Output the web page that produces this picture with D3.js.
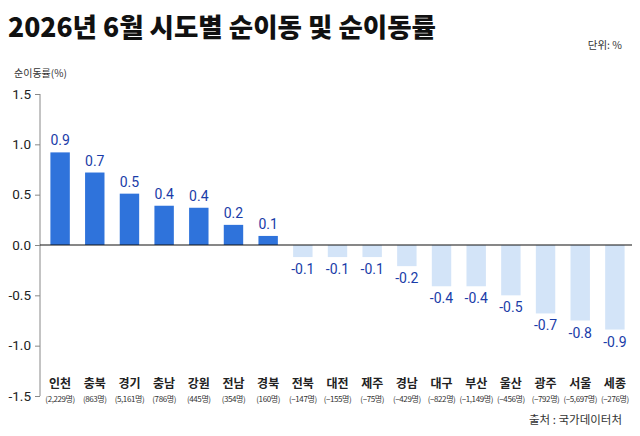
<!DOCTYPE html>
<html>
<head>
<meta charset="utf-8">
<script src="https://cdn.jsdelivr.net/npm/d3@7"></script>
<style>
  body { margin: 0; background: #fff; }
  svg { display: block; font-family: "Noto Sans CJK KR", "Noto Sans", sans-serif; }
</style>
</head>
<body>
<svg id="chart"></svg>
<script>
const width = 640
const height = 436

// 시도별 순이동률(%) - 막대 높이, 라벨, 순이동(명)
const regions = ["인천", "충북", "경기", "충남", "강원", "전남", "경북", "전북", "대전",
                 "제주", "경남", "대구", "부산", "울산", "광주", "서울", "세종"]
const rates = [0.92, 0.72, 0.51, 0.39, 0.37, 0.2, 0.09, -0.12, -0.12,
               -0.12, -0.21, -0.41, -0.41, -0.5, -0.68, -0.75, -0.84]
const rateLabels = ["0.9", "0.7", "0.5", "0.4", "0.4", "0.2", "0.1", "-0.1", "-0.1",
                    "-0.1", "-0.2", "-0.4", "-0.4", "-0.5", "-0.7", "-0.8", "-0.9"]
const moves = [2229, 863, 5161, 786, 445, 354, 160, -147, -155,
               -75, -429, -822, -1149, -456, -792, -5697, -276]
const yTicks = [1.5, 1.0, 0.5, 0.0, -0.5, -1.0, -1.5]

const svg = d3.select("#chart")
              .attr("width", width)
              .attr("height", height)

const x = d3.scaleBand()
            .domain(regions)
            .range([40, 635])
            .paddingInner(0.44)
            .paddingOuter(0.3)

const y = d3.scaleLinear()
            .domain([-1.5, 1.5])
            .range([396, 94])

// title
svg.append("text")
   .attr("x", 8).attr("y", 37)
   .attr("font-size", 26.5).attr("font-weight", 900)
   .attr("fill", "#111")
   .text("2026년 6월 시도별 순이동 및 순이동률")

svg.append("text")
   .attr("x", 622).attr("y", 49)
   .attr("text-anchor", "end")
   .attr("font-size", 10.5).attr("fill", "#333")
   .text("단위: %")

svg.append("text")
   .attr("x", 14).attr("y", 77)
   .attr("font-size", 10).attr("fill", "#333")
   .text("순이동률(%)")

// y axis
const yAxis = svg.append("g")
   .attr("transform", "translate(40,0)")
   .call(d3.axisLeft(y).tickValues(yTicks).tickFormat(d3.format(".1f")).tickSize(5).tickPadding(4))
yAxis.select(".domain").attr("stroke", "#888").attr("d", `M0,${y(1.5)}V${y(-1.5)}`)
yAxis.selectAll(".tick line").attr("stroke", "#888")
yAxis.selectAll(".tick text")
     .attr("font-size", 13.5).attr("fill", "#222")
     .attr("font-family", "Roboto, sans-serif")
     .text(d => d < 0 ? "-" + d3.format(".1f")(-d) : d3.format(".1f")(d))

// bars
svg.append("g")
   .selectAll("rect")
   .data(regions)
   .join("rect")
     .attr("x", d => x(d))
     .attr("width", x.bandwidth())
     .attr("y", (d, i) => y(Math.max(0, rates[i])))
     .attr("height", (d, i) => Math.abs(y(rates[i]) - y(0)))
     .attr("fill", (d, i) => rates[i] >= 0 ? "#2f73db" : "#d3e4f8")

// zero line
svg.append("line")
   .attr("x1", 40).attr("x2", 632)
   .attr("y1", y(0)).attr("y2", y(0))
   .attr("stroke", "#111").attr("stroke-width", 1.2)

// value labels
svg.append("g")
   .selectAll("text")
   .data(regions)
   .join("text")
     .attr("x", d => x(d) + x.bandwidth() / 2)
     .attr("y", (d, i) => rates[i] >= 0 ? y(rates[i]) - 7 : y(rates[i]) + 17)
     .attr("text-anchor", "middle")
     .attr("font-size", 14)
     .attr("font-family", "Roboto, sans-serif")
     .attr("fill", "#1a3ca8")
     .text((d, i) => rateLabels[i])

// category labels
const fmt = d3.format(",")
const cat = svg.append("g")
   .selectAll("g")
   .data(regions)
   .join("g")
     .attr("transform", d => `translate(${x(d) + x.bandwidth() / 2},0)`)

cat.append("text")
   .attr("y", 388)
   .attr("text-anchor", "middle")
   .attr("font-size", 12).attr("font-weight", 700)
   .attr("fill", "#222")
   .text(d => d)

cat.append("text")
   .attr("y", 402)
   .attr("text-anchor", "middle")
   .attr("font-size", 8).attr("letter-spacing", -0.4)
   .attr("fill", "#333")
   .text((d, i) => `(${fmt(moves[i])}명)`)

// source
svg.append("text")
   .attr("x", 622).attr("y", 424)
   .attr("text-anchor", "end")
   .attr("font-size", 11.5).attr("fill", "#333")
   .text("출처 : 국가데이터처")
</script>
</body>
</html>
